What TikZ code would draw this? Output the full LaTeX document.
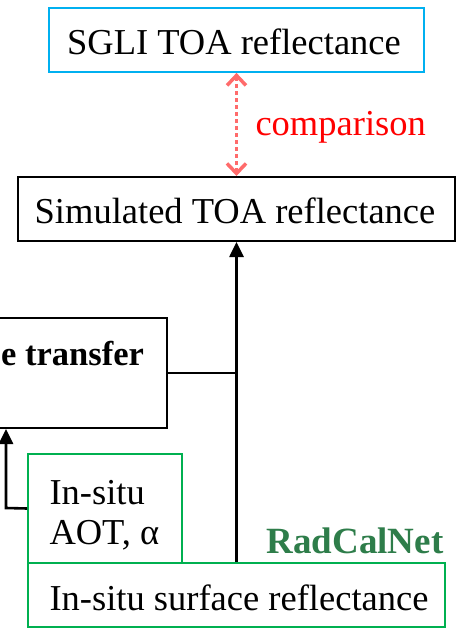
\documentclass[tikz,border=0pt]{standalone}
\usepackage{fontspec}
\setmainfont{Liberation Serif}
\usetikzlibrary{arrows.meta}
\definecolor{sglicyan}{HTML}{00B0F0}
\definecolor{cmpred}{HTML}{FF6B6B}
\definecolor{insitugreen}{HTML}{00B050}
\definecolor{rcngreen}{HTML}{2E7D4A}
\begin{document}
\begin{tikzpicture}[x=1pt,y=-1pt,
  box/.style={draw, line width=2pt, minimum height=64pt, inner sep=0pt},
  txt/.style={font=\fontsize{36.5}{40}\selectfont},
  flow/.style={line width=2.6pt, -{Triangle[length=15pt,width=14pt]}}]
\useasboundingbox (0,0) rectangle (460,628);
\clip (0,0) rectangle (460,628);
% boxes
\node[box, draw=sglicyan, line width=1.8pt, minimum width=375pt] (sgli) at (236.5,40) {};
\node[txt] (sglit) at (234,42) {SGLI TOA reflectance};
\node[box, minimum width=437pt] (sim) at (236.5,209) {};
\node[txt] (simt) at (235,211) {Simulated TOA reflectance};
\node[box, minimum width=230pt, minimum height=110pt] (rt) at (52,373) {};
\node[txt, font=\fontsize{34.5}{38}\selectfont\bfseries, anchor=west, inner sep=0pt] (rtt) at (1,354) {e transfer};
\node[box, draw=insitugreen, line width=1.6pt, minimum width=154pt, minimum height=109pt] (aot) at (105,508.5) {};
\node[txt, align=left, anchor=west] (aott) at (46,515) {In-situ\\AOT, α};
\node[box, draw=insitugreen, line width=1.6pt, minimum width=417pt] (sfc) at (236.5,595) {};
\node[txt, anchor=west] (sfct) at (46,598) {In-situ surface reflectance};
\node[font=\fontsize{37}{40}\selectfont\bfseries, text=rcngreen, anchor=east] (rcn) at (447,541) {RadCalNet};
% comparison
\draw[cmpred, line width=3.5pt, dash pattern=on 3.5pt off 3.5pt,
  {Straight Barb[length=10pt,width=19pt,line width=3.5pt]}-{Straight Barb[length=10pt,width=19pt,line width=3.5pt]}]
  (sgli.south) -- (sim.north);
\node[txt, text=red, anchor=west] (cmp) at (252,127) {comparison};
% flows
\coordinate (j) at (sim.south |- rt.east);
\draw[flow] (sfc.north -| sim.south) -- (sim.south);
\draw[line width=2.6pt] (rt.east) -- (j);
\coordinate (k) at (6,508);
\draw[flow] (aot.west) -- (k) -- (k |- rt.south);
\end{tikzpicture}
\end{document}
